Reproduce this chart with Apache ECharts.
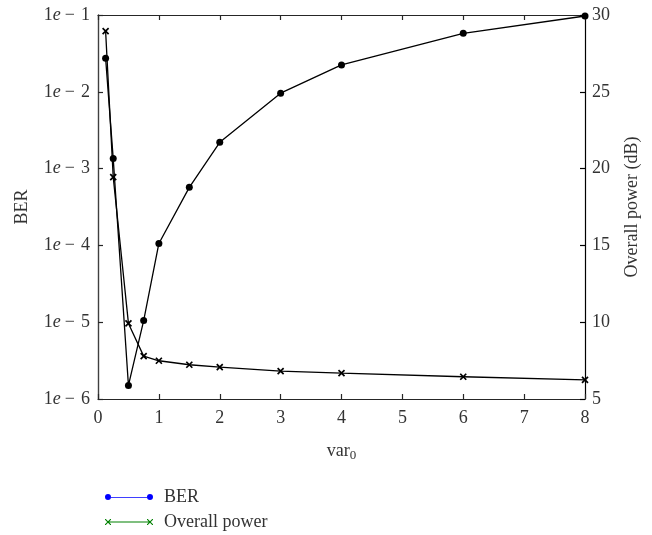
<!DOCTYPE html>
<html>
<head>
<meta charset="utf-8">
<script src="https://cdn.jsdelivr.net/npm/echarts@6/dist/echarts.min.js"></script>
<style>
html,body{margin:0;padding:0;background:#fff;}
#chart{width:652px;height:535px;}
</style>
</head>
<body>
<div id="chart"></div>
<script>
// ---- data ----
var varValues = [0.125, 0.25, 0.5, 0.75, 1, 1.5, 2, 3, 4, 6, 8];
var berValues = [2.73e-2, 1.35e-3, 1.5e-6, 1.05e-5, 1.06e-4, 5.7e-4, 2.2e-3, 9.6e-3, 2.24e-2, 5.78e-2, 9.7e-2];
var powerValues = [28.95, 19.44, 9.92, 7.79, 7.49, 7.23, 7.07, 6.81, 6.68, 6.45, 6.25];
var xTicks = [0, 1, 2, 3, 4, 5, 6, 7, 8];
var powerTicks = [5, 10, 15, 20, 25, 30];
var legendNames = ['BER', 'Overall power'];

var FONT = '"Liberation Serif", "DejaVu Serif", serif';
var TXT = '#333';
var FS = 18;

function pairs(xs, ys) { return xs.map(function (x, i) { return [x, ys[i]]; }); }

var crossPath = 'path://M0,0 L10,10 M10,0 L0,10';
var legendCircleIcon = 'path://M0,3 A3,3 0 1,1 6,3 L42,3 A3,3 0 1,1 48,3 A3,3 0 1,1 42,3 L42,3.7 L6,3.7 L6,3 A3,3 0 1,1 0,3 Z';
function xShape(cx, cy) {
  var h = 3, t = 0.8;
  return 'M' + (cx - h) + ',' + (cy - h) + ' L' + (cx - h + t) + ',' + (cy - h) + ' L' + cx + ',' + (cy - t) +
    ' L' + (cx + h - t) + ',' + (cy - h) + ' L' + (cx + h) + ',' + (cy - h) + ' L' + (cx + h) + ',' + (cy - h + t) +
    ' L' + (cx + t) + ',' + cy + ' L' + (cx + h) + ',' + (cy + h - t) + ' L' + (cx + h) + ',' + (cy + h) +
    ' L' + (cx + h - t) + ',' + (cy + h) + ' L' + cx + ',' + (cy + t) + ' L' + (cx - h + t) + ',' + (cy + h) +
    ' L' + (cx - h) + ',' + (cy + h) + ' L' + (cx - h) + ',' + (cy + h - t) + ' L' + (cx - t) + ',' + cy +
    ' L' + (cx - h) + ',' + (cy - h + t) + ' Z';
}
var legendCrossIcon = 'path://' + xShape(3, 3) + ' M3,2.4 L45,2.4 L45,3.6 L3,3.6 Z ' + xShape(45, 3);

var chart = echarts.init(document.getElementById('chart'), null, {renderer: 'canvas'});
var axisLineStyle = {color: '#262626', width: 1.2};
var option = {
  backgroundColor: '#fff',
  animation: false,
  grid: {left: 98, right: 67, top: 15, bottom: 136, containLabel: false},
  legend: {
    orient: 'vertical',
    left: 100,
    top: 482,
    height: 80,
    itemWidth: 48,
    itemHeight: 6,
    itemGap: 5,
    data: [
      {name: legendNames[0], icon: legendCircleIcon},
      {name: legendNames[1], icon: legendCrossIcon}
    ],
    textStyle: {fontFamily: FONT, fontSize: FS, color: TXT, lineHeight: 20, padding: [0, 0, 0, 6]}
  },
  xAxis: [{
    type: 'value', position: 'bottom', min: xTicks[0], max: xTicks[xTicks.length - 1], interval: 1,
    name: 'var{sub|0}', nameLocation: 'middle', nameGap: 41,
    nameTextStyle: {fontFamily: FONT, fontSize: FS, color: TXT,
      rich: {sub: {fontFamily: FONT, fontSize: 13, color: TXT, verticalAlign: 'bottom', padding: [9, 0, 0, 0]}}},
    axisLine: {show: true, onZero: false, lineStyle: axisLineStyle},
    axisTick: {show: true, inside: true, length: 5, lineStyle: axisLineStyle},
    axisLabel: {fontFamily: FONT, fontSize: FS, color: TXT, margin: 10},
    splitLine: {show: false}
  }, {
    type: 'value', position: 'top', min: xTicks[0], max: xTicks[xTicks.length - 1], interval: 1,
    axisLine: {show: true, onZero: false, lineStyle: axisLineStyle},
    axisTick: {show: true, inside: true, length: 5, lineStyle: axisLineStyle},
    axisLabel: {show: false},
    splitLine: {show: false}
  }],
  yAxis: [{
    type: 'log', logBase: 10, min: 1e-6, max: 1e-1, position: 'left',
    name: 'BER', nameLocation: 'middle', nameGap: 67, nameRotate: 90,
    nameTextStyle: {fontFamily: FONT, fontSize: FS, color: TXT},
    axisLine: {show: true, onZero: false, lineStyle: {color: '#404040', width: 1.4}},
    axisTick: {show: true, inside: true, length: 5, lineStyle: axisLineStyle},
    axisLabel: {
      fontFamily: FONT, fontSize: FS, color: TXT, margin: 8,
      formatter: function (v) {
        var e = Math.round(Math.log(v) / Math.LN10);
        return '1{i|e}{m|\u2212}' + (-e);
      },
      rich: {
        i: {fontFamily: FONT, fontSize: FS, color: TXT, fontStyle: 'italic'},
        m: {fontFamily: FONT, fontSize: FS, color: TXT, padding: [0, 6, 0, 4]}
      }
    },
    splitLine: {show: false},
    minorTick: {show: false}
  }, {
    type: 'value', min: powerTicks[0], max: powerTicks[powerTicks.length - 1], interval: 5, position: 'right',
    name: 'Overall power (dB)', nameLocation: 'middle', nameGap: 38, nameRotate: 90,
    nameTextStyle: {fontFamily: FONT, fontSize: FS, color: TXT},
    axisLine: {show: true, onZero: false, lineStyle: {color: '#000', width: 1.2}},
    axisTick: {show: true, inside: true, length: 5, lineStyle: {color: '#000', width: 1.2}},
    axisLabel: {fontFamily: FONT, fontSize: FS, color: TXT, margin: 7},
    splitLine: {show: false}
  }],
  series: [{
    name: 'BER_data', type: 'line', xAxisIndex: 0, yAxisIndex: 0,
    data: pairs(varValues, berValues),
    symbol: 'circle', symbolSize: 7, showAllSymbol: true,
    lineStyle: {color: '#000', width: 1.3},
    itemStyle: {color: '#000'},
    z: 3
  }, {
    name: 'Power_data', type: 'line', xAxisIndex: 0, yAxisIndex: 1,
    data: pairs(varValues, powerValues),
    symbol: crossPath, symbolSize: 6, showAllSymbol: true,
    lineStyle: {color: '#000', width: 1.3},
    itemStyle: {color: '#000', borderColor: '#000', borderWidth: 1.7},
    z: 3
  }, {
    name: legendNames[0], type: 'line', xAxisIndex: 0, yAxisIndex: 0, data: [],
    itemStyle: {color: '#0000ff'}, lineStyle: {color: '#0000ff'}
  }, {
    name: legendNames[1], type: 'line', xAxisIndex: 0, yAxisIndex: 1, data: [],
    itemStyle: {color: '#008000'}, lineStyle: {color: '#008000'}
  }]
};
chart.setOption(option);
</script>
</body>
</html>
